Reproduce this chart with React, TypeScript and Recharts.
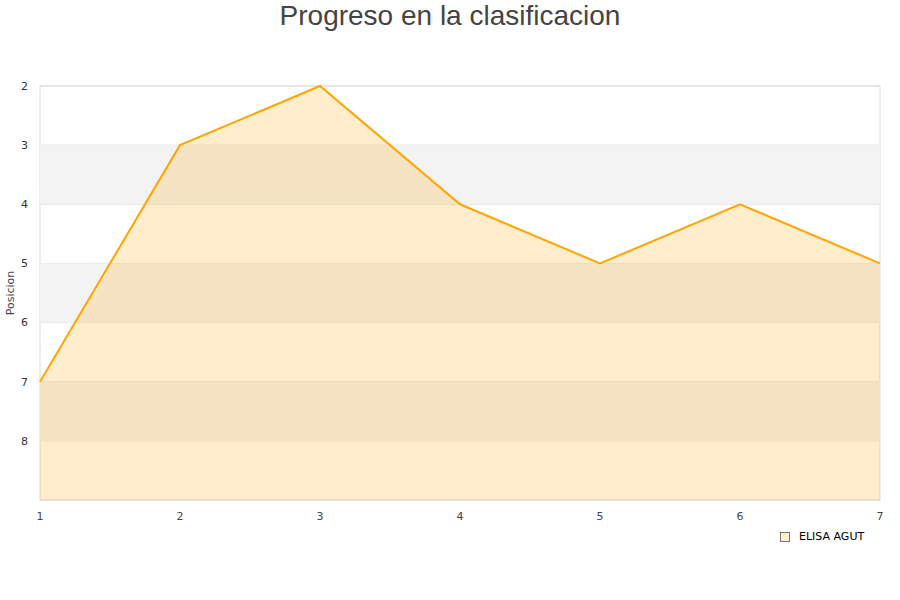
import { ComposedChart, Area, XAxis, YAxis, CartesianGrid, ReferenceArea } from "recharts";

const jornadas = [1, 2, 3, 4, 5, 6, 7];
const posiciones = [7, 3, 2, 4, 5, 4, 5];
const posTicks = [2, 3, 4, 5, 6, 7, 8];
const bandas = [[3, 4], [5, 6], [7, 8]];
const jugador = "ELISA AGUT";

const data = jornadas.map((j, i) => ({ jornada: j, pos: posiciones[i] }));

// etiqueta del eje Y, girada
const PosLabel = ({ viewBox }: any) => {
  const cy = viewBox.y + viewBox.height / 2;
  return (
    <text x={14} y={cy} transform={`rotate(-90 14 ${cy})`} textAnchor="middle" fontSize={11} fill="#444" fontFamily="DejaVu Sans">
      Posicion
    </text>
  );
};

export default function App() {
  return (
    <div style={{ position: "absolute", left: 0, top: 0, width: 900, height: 600, background: "#fff" }}>
      <div style={{ position: "absolute", top: 0, width: 900, textAlign: "center", fontFamily: "Liberation Sans, Arial, sans-serif", fontSize: 28, color: "#444", lineHeight: "32px" }}>
        Progreso en la clasificacion
      </div>
      <ComposedChart width={900} height={600} data={data} margin={{ top: 86, right: 20, left: 0, bottom: 70 }}>
        {bandas.map(([a, b]) => (
          <ReferenceArea key={a} y1={a} y2={b} fill="#f3f3f3" fillOpacity={1} stroke="none" />
        ))}
        <CartesianGrid vertical={false} stroke="#e0e0e0" />
        <XAxis dataKey="jornada" type="number" domain={[1, 7]} ticks={jornadas} axisLine={false} tickLine={false} height={30}
          tick={{ fontSize: 11, fill: "#444", fontFamily: "DejaVu Sans" }} tickMargin={6} />
        <YAxis type="number" reversed domain={[2, 9]} ticks={posTicks} axisLine={false} tickLine={false} width={40}
          tick={{ fontSize: 11, fill: "#333", fontFamily: "DejaVu Sans" }} tickMargin={6}
          label={<PosLabel />} />
        <Area type="linear" dataKey="pos" baseValue={9} stroke="#ffa500" strokeWidth={2} fill="#ffa500" fillOpacity={0.2} dot={false} activeDot={false} isAnimationActive={false} />
        <rect x={40} y={86} width={840} height={414} fill="none" stroke="#dcdcdc" />
      </ComposedChart>
      <div style={{ position: "absolute", left: 780, top: 530, display: "flex", alignItems: "center", fontFamily: "DejaVu Sans", fontSize: 11, color: "#000" }}>
        <span style={{ width: 8, height: 8, border: "1px solid #777", background: "#ffeecc", marginRight: 9, display: "inline-block" }} />
        {jugador}
      </div>
    </div>
  );
}
